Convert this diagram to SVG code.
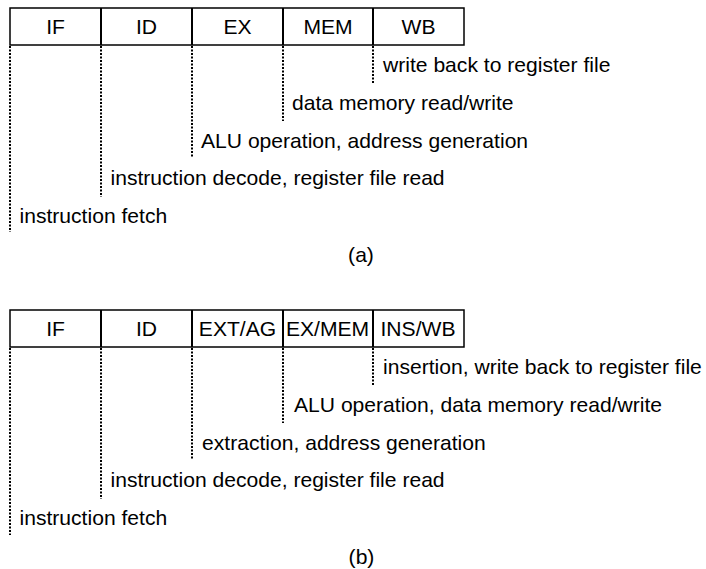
<svg xmlns="http://www.w3.org/2000/svg" width="706" height="569" viewBox="0 0 706 569">
<style>
  .t { font-family: "Liberation Sans", Arial, sans-serif; font-size: 20px; fill: #000; }
  .m { text-anchor: middle; }
  .box { fill: #fff; stroke: #000; stroke-width: 1.5; }
  .div { stroke: #000; stroke-width: 2; fill: none; }
  .dot { stroke: #000; stroke-width: 2; stroke-dasharray: 2 1.5; fill: none; }
</style>
<rect width="706" height="569" fill="#fff"/>

<!-- (a) pipeline -->
<g id="pipeline-a">
  <rect class="box" x="10" y="8" width="454" height="37"/>
  <g id="a-IF"><text class="t m" transform="translate(55.5 33.5) scale(1.055 1)">IF</text></g>
  <g id="a-ID"><line class="div" x1="101" y1="8" x2="101" y2="45"/><text class="t m" transform="translate(146.5 33.5) scale(1.055 1)">ID</text></g>
  <g id="a-EX"><line class="div" x1="192" y1="8" x2="192" y2="45"/><text class="t m" transform="translate(237.5 33.5) scale(1.055 1)">EX</text></g>
  <g id="a-MEM"><line class="div" x1="283" y1="8" x2="283" y2="45"/><text class="t m" transform="translate(328 33.5) scale(1.055 1)">MEM</text></g>
  <g id="a-WB"><line class="div" x1="373" y1="8" x2="373" y2="45"/><text class="t m" transform="translate(418.5 33.5) scale(1.055 1)">WB</text></g>
</g>
<g id="a-labels">
  <g id="a-l-wb"><text class="t" transform="translate(383 72) scale(1.055 1)">write back to register file</text></g>
  <g id="a-l-mem"><text class="t" transform="translate(292 109.75) scale(1.055 1)">data memory read/write</text></g>
  <g id="a-l-ex"><text class="t" transform="translate(201 147.5) scale(1.055 1)">ALU operation, address generation</text></g>
  <g id="a-l-id"><text class="t" transform="translate(110.5 185.25) scale(1.055 1)">instruction decode, register file read</text></g>
  <g id="a-l-if"><text class="t" transform="translate(19.5 223) scale(1.055 1)">instruction fetch</text></g>
  <g id="a-caption"><text class="t m" transform="translate(361 262) scale(1.055 1)">(a)</text></g>
</g>

<!-- (b) pipeline -->
<g id="pipeline-b">
  <rect class="box" x="10" y="310" width="454" height="37"/>
  <g id="b-IF"><text class="t m" transform="translate(55.5 335.5) scale(1.055 1)">IF</text></g>
  <g id="b-ID"><line class="div" x1="101" y1="310" x2="101" y2="347"/><text class="t m" transform="translate(146.5 335.5) scale(1.055 1)">ID</text></g>
  <g id="b-EXTAG"><line class="div" x1="192" y1="310" x2="192" y2="347"/><text class="t m" transform="translate(237.5 335.5) scale(1.055 1)">EXT/AG</text></g>
  <g id="b-EXMEM"><line class="div" x1="283" y1="310" x2="283" y2="347"/><text class="t m" transform="translate(327.5 335.5) scale(1.055 1)">EX/MEM</text></g>
  <g id="b-INSWB"><line class="div" x1="373" y1="310" x2="373" y2="347"/><text class="t m" transform="translate(418 335.5) scale(1.055 1)">INS/WB</text></g>
</g>
<g id="b-labels">
  <g id="b-l-wb"><text class="t" transform="translate(383 374) scale(1.055 1)">insertion, write back to register file</text></g>
  <g id="b-l-mem"><text class="t" transform="translate(294 411.75) scale(1.055 1)">ALU operation, data memory read/write</text></g>
  <g id="b-l-ex"><text class="t" transform="translate(202 449.5) scale(1.055 1)">extraction, address generation</text></g>
  <g id="b-l-id"><text class="t" transform="translate(110.5 487.25) scale(1.055 1)">instruction decode, register file read</text></g>
  <g id="b-l-if"><text class="t" transform="translate(19.5 525) scale(1.055 1)">instruction fetch</text></g>
  <g id="b-caption"><text class="t m" transform="translate(361.5 564) scale(1.055 1)">(b)</text></g>
</g>

<g id="connectors">
  <line class="dot" x1="10" y1="46" x2="10" y2="232"/>
  <line class="dot" x1="101" y1="46" x2="101" y2="197"/>
  <line class="dot" x1="192" y1="46" x2="192" y2="158"/>
  <line class="dot" x1="283" y1="46" x2="283" y2="121"/>
  <line class="dot" x1="373" y1="46" x2="373" y2="83"/>
  <line class="dot" x1="10" y1="348" x2="10" y2="535"/>
  <line class="dot" x1="101" y1="348" x2="101" y2="499"/>
  <line class="dot" x1="192" y1="348" x2="192" y2="460"/>
  <line class="dot" x1="283" y1="348" x2="283" y2="423"/>
  <line class="dot" x1="373" y1="348" x2="373" y2="385"/>
</g>
</svg>
